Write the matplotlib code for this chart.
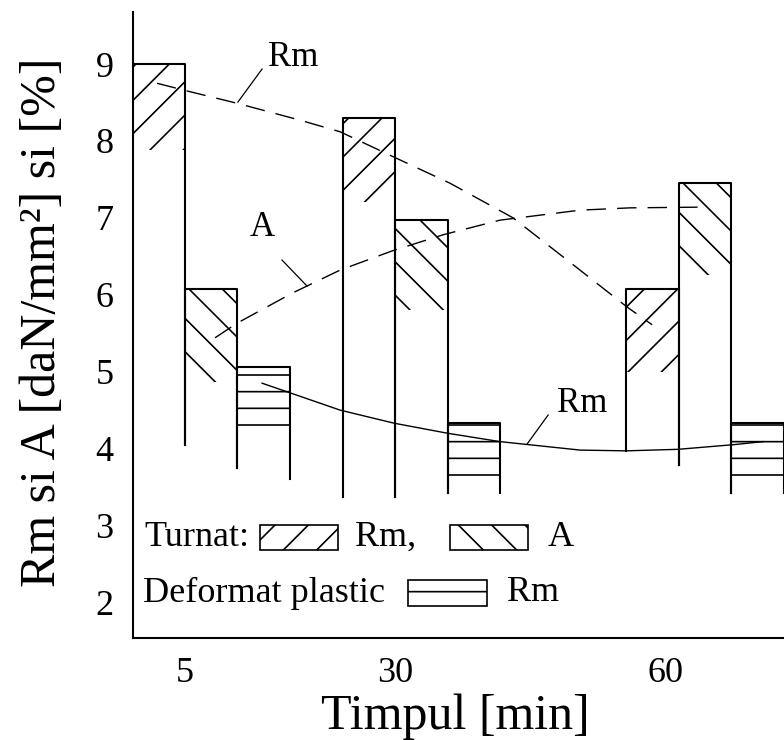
import matplotlib.pyplot as plt
import matplotlib.patches as mpatches
import numpy as np

plt.rcParams['font.family'] = ['Liberation Serif', 'DejaVu Serif']
plt.rcParams['hatch.linewidth'] = 1.2

# timpul [min] si pozitia grupurilor pe axa (axa din desen nu e liniara)
timpi = ["5", "30", "60"]
poz = np.array([0, 1, 2.35])
poz_etichete = [0, 1, 2.29]
valori_y = [2, 3, 4, 5, 6, 7, 8, 9]

# Turnat Rm: varful barei, unde se termina hasura, unde se termina latura
rm_turnat = [9.0, 8.3, 6.07]
rm_turnat_hasura = [7.88, 7.2, 5.0]
rm_turnat_jos = [4.05, 3.37, 3.78]
# Turnat A
a_turnat = [6.07, 6.97, 7.45]
a_turnat_hasura = [4.87, 5.8, 6.26]
a_turnat_jos = [3.75, 3.42, 3.42]
# Deformat plastic Rm
rm_deformat = [5.06, 4.33, 4.33]
rm_deformat_hasura = [4.25, 3.5, 3.5]
rm_deformat_jos = [3.6, 3.42, 3.42]
# capatul de jos al primei laturi din fiecare grup
latura_stanga_jos = [1.5, 3.37, 3.97]

# curbele trasate de mana peste bare (citite de pe desen)
curba_rm_x = [-0.133, 0.010, 0.248, 0.548, 0.738, 0.995, 1.262, 1.562, 1.881, 2.105, 2.224]
curba_rm_y = [8.75, 8.65, 8.49, 8.27, 8.12, 7.79, 7.45, 7.0, 6.32, 5.84, 5.61]
curba_a_x = [0.143, 0.248, 0.510, 0.738, 0.986, 1.229, 1.5, 1.881, 2.119, 2.486]
curba_a_y = [5.44, 5.63, 6.02, 6.32, 6.57, 6.78, 6.97, 7.10, 7.13, 7.14]
curba_def_x = [0.367, 0.643, 0.738, 0.995, 1.248, 1.5, 1.881, 2.1, 2.348, 2.61, 2.752]
curba_def_y = [4.85, 4.59, 4.50, 4.33, 4.20, 4.09, 3.98, 3.97, 3.99, 4.05, 4.09]

fig = plt.figure(figsize=(7.84, 7.4), dpi=100)
ax = fig.add_axes([0.1696, 0.1378, 0.8304, 0.8459])

w = 0.25
serii = [(rm_turnat, rm_turnat_hasura, rm_turnat_jos, '/'),
         (a_turnat, a_turnat_hasura, a_turnat_jos, '\\'),
         (rm_deformat, rm_deformat_hasura, rm_deformat_jos, '-')]
for k, (sus, has, jos, h) in enumerate(serii):
    x = poz + (k - 0.5) * w
    sus = np.array(sus)
    has = np.array(has)
    # doar partea de sus a barei e hasurata
    ax.bar(x, sus - has, bottom=has, width=w, facecolor='none',
           edgecolor='black', linewidth=0, hatch=h)
    stanga_jos = latura_stanga_jos if k == 0 else serii[k - 1][2]
    for i in range(len(x)):
        ax.plot([x[i] - w / 2, x[i] - w / 2, x[i] + w / 2, x[i] + w / 2],
                [stanga_jos[i], sus[i], sus[i], jos[i]], color='black', lw=1.5)

# curbele
ax.plot(curba_rm_x, curba_rm_y, color='black', lw=1.0, dashes=(14, 8))
ax.plot(curba_a_x, curba_a_y, color='black', lw=1.0, dashes=(14, 8))
ax.plot(curba_def_x, curba_def_y, color='black', lw=1.0)

# etichetele curbelor cu linii de indicatie
ax.text(0.514, 9.08, "Rm", fontsize=25, ha='center', va='center')
ax.plot([0.367, 0.252], [8.935, 8.506], color='black', lw=0.9)
ax.text(0.367, 6.88, "A", fontsize=25, ha='center', va='center')
ax.plot([0.462, 0.581], [6.451, 6.113], color='black', lw=0.9)
ax.text(1.89, 4.58, "Rm", fontsize=25, ha='center', va='center')
ax.plot([1.729, 1.629], [4.436, 4.059], color='black', lw=0.9)

# legenda facuta de mana
ax.text(0.018, 0.161, "Turnat:", fontsize=26, va='center', transform=ax.transAxes)
ax.add_patch(mpatches.Rectangle((0.195, 0.1406), 0.12, 0.04, transform=ax.transAxes,
                                facecolor='white', edgecolor='black', lw=1.2, hatch='/'))
ax.text(0.341, 0.161, "Rm,", fontsize=26, va='center', transform=ax.transAxes)
ax.add_patch(mpatches.Rectangle((0.487, 0.1406), 0.12, 0.04, transform=ax.transAxes,
                                facecolor='white', edgecolor='black', lw=1.2, hatch='\\'))
ax.text(0.6375, 0.161, "A", fontsize=26, va='center', transform=ax.transAxes)
ax.text(0.0154, 0.072, "Deformat plastic", fontsize=26, va='center', transform=ax.transAxes)
ax.add_patch(mpatches.Rectangle((0.4224, 0.0511), 0.121, 0.0415, transform=ax.transAxes,
                                facecolor='white', edgecolor='black', lw=1.2, hatch='-'))
ax.text(0.5745, 0.072, "Rm", fontsize=26, va='center', transform=ax.transAxes)

ax.set_xlim(-0.2476, 2.852)
ax.set_ylim(1.536, 9.676)
ax.set_xticks(poz_etichete)
ax.set_xticklabels(timpi)
ax.set_yticks(valori_y)
ax.tick_params(length=0, labelsize=26)
ax.tick_params(axis='x', pad=14)
ax.tick_params(axis='y', pad=14)
ax.spines['top'].set_visible(False)
ax.spines['right'].set_visible(False)
ax.spines['left'].set_linewidth(1.5)
ax.spines['bottom'].set_linewidth(1.5)

ax.set_xlabel("Timpul [min]", fontsize=36, va='center')
ax.xaxis.set_label_coords(0.495, -0.125)
ax.set_ylabel("Rm si A [daN/mm²] si [%]", fontsize=36, va='center')
ax.yaxis.set_label_coords(-0.138, 0.505)

fig.savefig("out.png", dpi=100)
